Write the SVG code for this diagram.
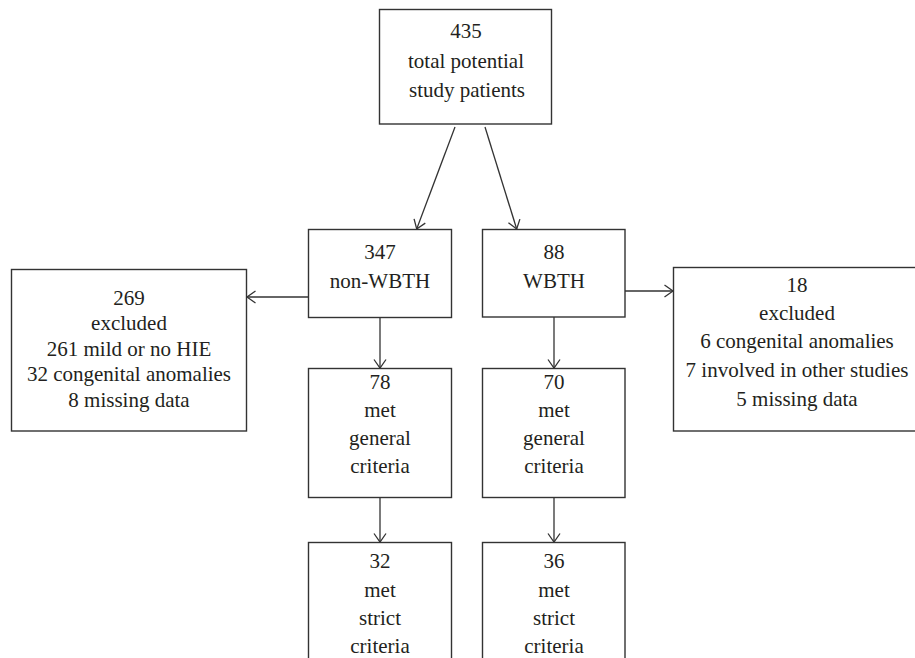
<svg xmlns="http://www.w3.org/2000/svg" width="915" height="658" viewBox="0 0 915 658">
<defs>
<style>
.box{fill:#fff;stroke:#333;stroke-width:1.4}
.t{font-family:"Liberation Serif","Times New Roman",serif;font-size:21px;fill:#231f20;text-anchor:middle}
.c{fill:none;stroke:#333;stroke-width:1.3}
</style>
<marker id="ah" markerUnits="userSpaceOnUse" markerWidth="20" markerHeight="20" viewBox="-10 -10 20 20" refX="0" refY="0" orient="auto">
<path d="M-8.5,-6 L0,0 L-8.5,6" fill="none" stroke="#333" stroke-width="1.3"/>
</marker>
</defs>
<rect width="915" height="658" fill="#fff"/>
<g id="connectors">
<line class="c" x1="455" y1="127" x2="416.7" y2="229" marker-end="url(#ah)"/>
<line class="c" x1="485" y1="127" x2="516.7" y2="229" marker-end="url(#ah)"/>
<line class="c" x1="308.5" y1="297" x2="247" y2="297" marker-end="url(#ah)"/>
<line class="c" x1="625" y1="291" x2="673" y2="291" marker-end="url(#ah)"/>
<line class="c" x1="380" y1="317.5" x2="380" y2="368" marker-end="url(#ah)"/>
<line class="c" x1="554" y1="317" x2="554" y2="368" marker-end="url(#ah)"/>
<line class="c" x1="380" y1="497.5" x2="380" y2="542" marker-end="url(#ah)"/>
<line class="c" x1="554" y1="497.5" x2="554" y2="542" marker-end="url(#ah)"/>
</g>
<g id="total">
<rect class="box" x="379.5" y="9.5" width="172" height="114.5"/>
<text class="t" x="466" y="37.5">435</text>
<text class="t" x="466" y="68">total potential</text>
<text class="t" x="467" y="96.5">study patients</text>
</g>
<g id="nonwbth">
<rect class="box" x="308.5" y="229.5" width="143" height="88"/>
<text class="t" x="380" y="258.5">347</text>
<text class="t" x="380" y="288">non-WBTH</text>
</g>
<g id="wbth">
<rect class="box" x="482.5" y="229.5" width="142.5" height="87.5"/>
<text class="t" x="554" y="258.5">88</text>
<text class="t" x="554" y="288">WBTH</text>
</g>
<g id="excl-left">
<rect class="box" x="11.5" y="269.5" width="235" height="161.5"/>
<text class="t" x="129" y="304.5">269</text>
<text class="t" x="129" y="330">excluded</text>
<text class="t" x="129" y="355.5">261 mild or no HIE</text>
<text class="t" x="129" y="381">32 congenital anomalies</text>
<text class="t" x="129" y="406.5">8 missing data</text>
</g>
<g id="excl-right">
<rect class="box" x="673.5" y="267.5" width="260" height="163.5"/>
<text class="t" x="797" y="291.5">18</text>
<text class="t" x="797" y="320">excluded</text>
<text class="t" x="797" y="348">6 congenital anomalies</text>
<text class="t" x="797" y="377">7 involved in other studies</text>
<text class="t" x="797" y="405.5">5 missing data</text>
</g>
<g id="general-non">
<rect class="box" x="308.5" y="368.5" width="143" height="129"/>
<text class="t" x="380" y="389">78</text>
<text class="t" x="380" y="417">met</text>
<text class="t" x="380" y="445">general</text>
<text class="t" x="380" y="473">criteria</text>
</g>
<g id="general-wbth">
<rect class="box" x="482.5" y="368.5" width="142.5" height="129"/>
<text class="t" x="554" y="389">70</text>
<text class="t" x="554" y="417">met</text>
<text class="t" x="554" y="445">general</text>
<text class="t" x="554" y="473">criteria</text>
</g>
<g id="strict-non">
<rect class="box" x="308.5" y="542.5" width="143" height="130"/>
<text class="t" x="380" y="568">32</text>
<text class="t" x="380" y="596.5">met</text>
<text class="t" x="380" y="625">strict</text>
<text class="t" x="380" y="653">criteria</text>
</g>
<g id="strict-wbth">
<rect class="box" x="482.5" y="542.5" width="142.5" height="130"/>
<text class="t" x="554" y="568">36</text>
<text class="t" x="554" y="596.5">met</text>
<text class="t" x="554" y="625">strict</text>
<text class="t" x="554" y="653">criteria</text>
</g>
</svg>
